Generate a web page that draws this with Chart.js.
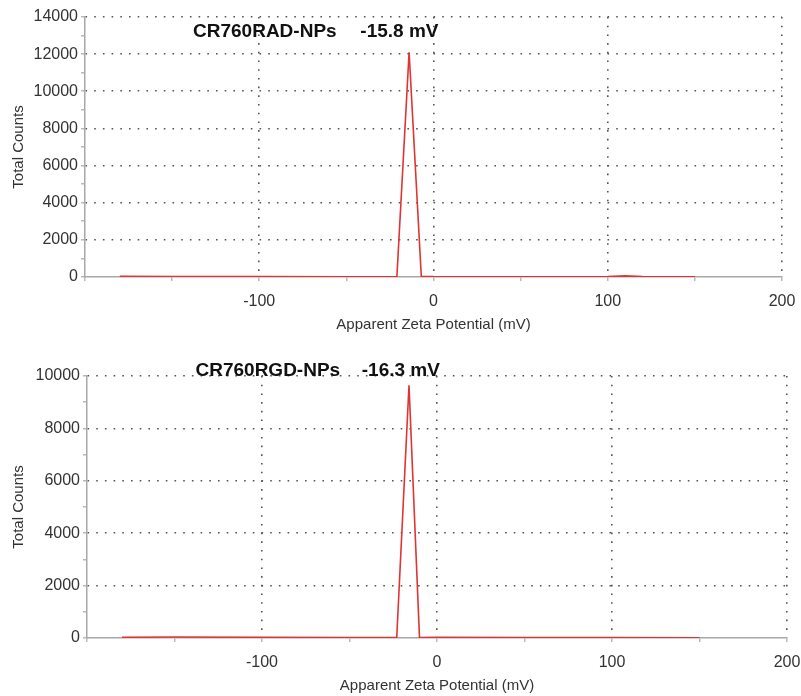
<!DOCTYPE html>
<html>
<head>
<meta charset="utf-8">
<script src="https://cdn.jsdelivr.net/npm/chart.js@4/dist/chart.umd.min.js"></script>
<style>
  html, body { margin: 0; padding: 0; background: #fff; }
  #wrap { position: relative; width: 801px; height: 696px; }
  .panel { position: absolute; left: 0; width: 801px; }
</style>
</head>
<body>
<div id="wrap">
  <div class="panel" id="topPanel" style="top:0;height:340px"><canvas id="chartTop"></canvas></div>
  <div class="panel" id="bottomPanel" style="top:345px;height:351px"><canvas id="chartBottom"></canvas></div>
</div>
<script>
// Zeta potential distributions (Apparent Zeta Potential in mV vs Total Counts)
const radZeta = [-180, -150, -100, -50, -27, -21, -14, -7, 0, 50, 100, 110, 120, 150];
const radCounts = [40, 30, 20, 15, 10, 30, 12100, 40, 20, 15, 30, 60, 20, 10];

const rgdZeta = [-180, -150, -100, -50, -23, -16, -10, 0, 50, 100, 150];
const rgdCounts = [30, 40, 30, 20, 30, 9650, 20, 30, 20, 15, 10];

const xTickLabels = [-100, 0, 100, 200];
const radLabel = ['CR760RAD-NPs', '-15.8 mV'];
const rgdLabel = ['CR760RGD-NPs', '-16.3 mV'];

const FONT = 'Arial, "Liberation Sans", sans-serif';
const GRID_DOT = '#555';
const AXIS_GRAY = '#a8a8a8';

// draws the sample name and zeta value inside the plot, anchored in data units
const sampleLabelPlugin = {
    id: 'sampleLabel',
    afterDraw(chart, args, opts) {
        const { ctx, scales: { x, y } } = chart;
        ctx.save();
        ctx.font = 'bold 19px ' + FONT;
        ctx.fillStyle = '#111';
        ctx.textBaseline = 'middle';
        ctx.textAlign = 'left';
        const py = y.getPixelForValue(opts.y);
        ctx.fillText(opts.text[0], x.getPixelForValue(opts.x[0]), py);
        ctx.fillText(opts.text[1], x.getPixelForValue(opts.x[1]), py);
        ctx.restore();
    }
};

function renderZetaChart(canvasId, xs, ys, opt) {
    const ctx = document.getElementById(canvasId).getContext('2d');
    const points = xs.map((v, i) => ({ x: v, y: ys[i] }));

    return new Chart(ctx, {
        type: 'line',
        data: {
            datasets: [{
                data: points,
                borderColor: 'rgb(222, 52, 52)',
                borderWidth: 1.6,
                pointRadius: 0,
                tension: 0,
                fill: false
            }]
        },
        options: {
            responsive: true,
            maintainAspectRatio: false,
            animation: false,
            layout: { padding: { top: opt.padTop, right: opt.padRight, left: 0, bottom: 0 } },
            plugins: {
                legend: { display: false },
                tooltip: { enabled: false },
                sampleLabel: { text: opt.label, x: opt.labelX, y: opt.labelY }
            },
            scales: {
                x: {
                    type: 'linear',
                    min: -200,
                    max: 200,
                    afterFit: (s) => {
                        s.height = opt.xHeight;
                        s.paddingLeft = 0;
                        s.paddingRight = 0;
                    },
                    ticks: {
                        stepSize: 50,
                        autoSkip: false,
                        maxRotation: 0,
                        padding: 11,
                        color: '#333',
                        font: { family: FONT, size: 16 },
                        callback: (v) => xTickLabels.includes(v) ? String(v) : ''
                    },
                    grid: {
                        color: (c) => (c.tick && xTickLabels.includes(c.tick.value)) ? GRID_DOT : 'rgba(0,0,0,0)',
                        lineWidth: 1.6,
                        tickLength: 4,
                        tickColor: AXIS_GRAY,
                        tickWidth: 1.2
                    },
                    border: { color: AXIS_GRAY, width: 1.5, dash: [1.6, 7.1] },
                    title: {
                        display: true,
                        text: 'Apparent Zeta Potential (mV)',
                        color: '#333',
                        font: { family: FONT, size: 15 },
                        padding: { top: 0, bottom: opt.xTitlePad }
                    }
                },
                y: {
                    min: 0,
                    max: opt.yMax,
                    afterFit: (s) => {
                        s.width = opt.yWidth;
                        s.paddingTop = 0;
                        s.paddingBottom = 0;
                    },
                    ticks: {
                        stepSize: 1000,
                        autoSkip: false,
                        padding: 3,
                        color: '#333',
                        font: { family: FONT, size: 16 },
                        callback: (v) => v % 2000 === 0 ? String(v) : ''
                    },
                    grid: {
                        color: (c) => (c.tick && c.tick.value > 0 && c.tick.value % 2000 === 0) ? GRID_DOT : 'rgba(0,0,0,0)',
                        lineWidth: 1.6,
                        tickLength: 4,
                        tickColor: AXIS_GRAY,
                        tickWidth: 1.2
                    },
                    border: { color: AXIS_GRAY, width: 1.5, dash: [1.6, 7.1] },
                    title: {
                        display: true,
                        text: 'Total Counts',
                        color: '#333',
                        font: { family: FONT, size: 15 },
                        padding: { top: 10, bottom: 0 }
                    }
                }
            }
        },
        plugins: [sampleLabelPlugin]
    });
}

renderZetaChart('chartTop', radZeta, radCounts, {
    yMax: 14000, padTop: 17, padRight: 19, xHeight: 63, yWidth: 85, xTitlePad: 6,
    label: radLabel, labelX: [-138, -42], labelY: 13200
});

renderZetaChart('chartBottom', rgdZeta, rgdCounts, {
    yMax: 10000, padTop: 31, padRight: 14, xHeight: 58, yWidth: 87, xTitlePad: 1,
    label: rgdLabel, labelX: [-138, -43], labelY: 10200
});
</script>
</body>
</html>
